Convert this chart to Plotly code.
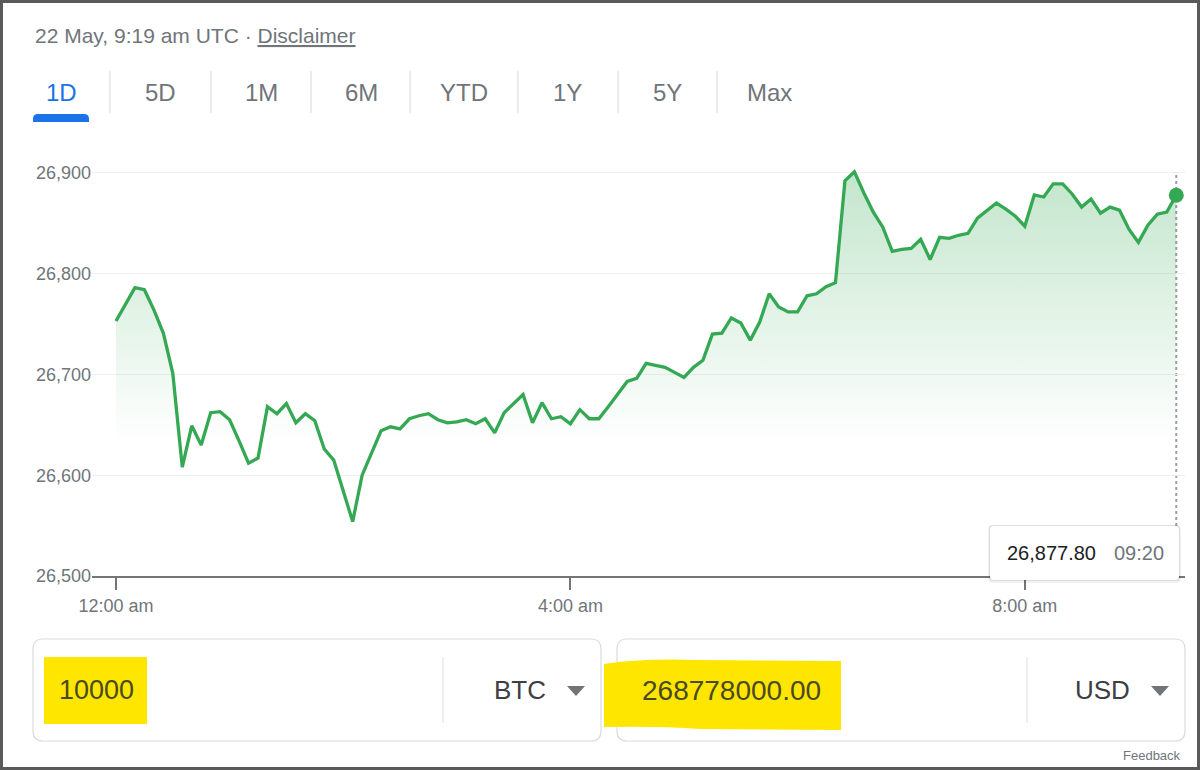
import plotly.graph_objects as go
import pandas as pd

# ---------------- data ----------------
start_time = "2023-05-22 00:00"
step = "5min"
prices = [
    26753, 26769, 26786, 26784, 26764, 26741, 26701, 26608, 26649, 26630,
    26662, 26663, 26655, 26634, 26612, 26617, 26668, 26661, 26671, 26652,
    26661, 26654, 26626, 26615, 26585, 26554, 26600, 26623, 26644, 26648,
    26646, 26656, 26659, 26661, 26655, 26652, 26653, 26655, 26651, 26656,
    26642, 26662, 26671, 26680, 26652, 26672, 26656, 26658, 26651, 26665,
    26656, 26656, 26668, 26681, 26693, 26696, 26711, 26709, 26707, 26702,
    26697, 26707, 26714, 26740, 26741, 26756, 26751, 26734, 26752, 26780,
    26767, 26762, 26762, 26778, 26780, 26787, 26791, 26892, 26901, 26880,
    26861, 26846, 26822, 26824, 26825, 26834, 26814, 26836, 26835, 26838,
    26840, 26855, 26863, 26870, 26864, 26857, 26847, 26878, 26876, 26889,
    26889, 26879, 26866, 26874, 26860, 26866, 26863, 26844, 26831, 26848,
    26859, 26861, 26877.8,
]
y_ticks = [26500, 26600, 26700, 26800, 26900]
y_tick_text = ["26,500", "26,600", "26,700", "26,800", "26,900"]
x_tick_times = ["2023-05-22 00:00", "2023-05-22 04:00", "2023-05-22 08:00"]
x_tick_text = ["12:00 am", "4:00 am", "8:00 am"]
tabs = ["1D", "5D", "1M", "6M", "YTD", "1Y", "5Y", "Max"]
header_text = "22 May, 9:19 am UTC · "
disclaimer_text = "Disclaimer"
last_price_label = "26,877.80"
last_time_label = "09:20"
amount_from = "10000"
currency_from = "BTC"
amount_to = "268778000.00"
currency_to = "USD"
footer_text = "Feedback"

times = pd.date_range(start_time, periods=len(prices), freq=step)

# ---------------- layout geometry ----------------
W, H = 1200, 770
L, R, T, B = 92, 15, 150, 194
PW, PH = W - L - R, H - T - B
FONT = "Liberation Sans, Arial, sans-serif"
GREEN = "#34a853"
GRAY = "#70757a"


def PX(x):
    return (x - L) / PW


def PY(y):
    return (H - B - y) / PH


def rrect_path(x0, y0, x1, y1, r):
    pts = []
    pts.append(f"M{PX(x0 + r)},{PY(y0)}")
    pts.append(f"L{PX(x1 - r)},{PY(y0)}")
    pts.append(f"Q{PX(x1)},{PY(y0)} {PX(x1)},{PY(y0 + r)}")
    pts.append(f"L{PX(x1)},{PY(y1 - r)}")
    pts.append(f"Q{PX(x1)},{PY(y1)} {PX(x1 - r)},{PY(y1)}")
    pts.append(f"L{PX(x0 + r)},{PY(y1)}")
    pts.append(f"Q{PX(x0)},{PY(y1)} {PX(x0)},{PY(y1 - r)}")
    pts.append(f"L{PX(x0)},{PY(y0 + r)}")
    pts.append(f"Q{PX(x0)},{PY(y0)} {PX(x0 + r)},{PY(y0)}")
    pts.append("Z")
    return " ".join(pts)


px_per_hour = 113.6
x0_time = pd.Timestamp(start_time)
x_left = x0_time - pd.Timedelta(hours=(116 - L) / px_per_hour)
x_right = x0_time + pd.Timedelta(hours=(W - R - 116) / px_per_hour)
y_top = 26500 + PH / 1.008

fig = go.Figure()
fig.add_trace(go.Scatter(
    x=times, y=prices, mode="lines",
    line=dict(color=GREEN, width=3.3),
    fill="tozeroy",
    fillgradient=dict(type="vertical", start=26630, stop=26905,
                      colorscale=[[0, "rgba(52,168,83,0)"], [1, "rgba(52,168,83,0.30)"]]),
    hoverinfo="skip", showlegend=False,
))
fig.add_trace(go.Scatter(
    x=[times[-1]], y=[prices[-1]], mode="markers",
    marker=dict(color=GREEN, size=15),
    hoverinfo="skip", showlegend=False,
))

shapes = []
annotations = []

# dotted cursor line
shapes.append(dict(type="line", xref="x", yref="paper", x0=times[-1], x1=times[-1],
                   y0=PY(526), y1=PY(175), line=dict(color="#9aa0a6", width=2, dash="dot"),
                   layer="below"))

# tooltip box
shapes.append(dict(type="path", xref="paper", yref="paper", path=rrect_path(988, 525, 1181, 583, 5),
                   fillcolor="rgba(0,0,0,0.06)", line=dict(width=0), layer="above"))
shapes.append(dict(type="path", xref="paper", yref="paper", path=rrect_path(989, 525, 1180, 581, 4),
                   fillcolor="rgba(0,0,0,0.08)", line=dict(width=0), layer="above"))
shapes.append(dict(type="path", xref="paper", yref="paper", path=rrect_path(990, 526, 1179, 580, 4),
                   fillcolor="white", line=dict(width=0), layer="above"))
annotations.append(dict(xref="paper", yref="paper", x=PX(1005), y=PY(553), xanchor="left", yanchor="middle",
                        text=last_price_label, showarrow=False, font=dict(family=FONT, size=20, color="#202124")))
annotations.append(dict(xref="paper", yref="paper", x=PX(1112), y=PY(553), xanchor="left", yanchor="middle",
                        text=last_time_label, showarrow=False, font=dict(family=FONT, size=20, color=GRAY)))

# header
annotations.append(dict(xref="paper", yref="paper", x=PX(33), y=PY(35), xanchor="left", yanchor="middle",
                        text=header_text + "<u>" + disclaimer_text + "</u>", showarrow=False,
                        font=dict(family=FONT, size=21, color=GRAY)))

# tabs
tab_centers = [61, 160, 261, 361, 464, 567, 667, 770]
for name, cx in zip(tabs, tab_centers):
    annotations.append(dict(xref="paper", yref="paper", x=PX(cx), y=PY(92), xanchor="center", yanchor="middle",
                            text=name, showarrow=False,
                            font=dict(family=FONT, size=24, color="#1a73e8" if name == "1D" else GRAY)))
for sx in [110, 211, 311, 410, 518, 618, 717]:
    shapes.append(dict(type="line", xref="paper", yref="paper", x0=PX(sx), x1=PX(sx), y0=PY(71), y1=PY(113),
                       line=dict(color="#e3e5e8", width=1.5)))
# underline of active tab (rounded top)
r = 5
ul = (f"M{PX(33)},{PY(122)} L{PX(33)},{PY(114 + r)} Q{PX(33)},{PY(114)} {PX(33 + r)},{PY(114)} "
      f"L{PX(89 - r)},{PY(114)} Q{PX(89)},{PY(114)} {PX(89)},{PY(114 + r)} L{PX(89)},{PY(122)} Z")
shapes.append(dict(type="path", xref="paper", yref="paper", path=ul, fillcolor="#1a73e8", line=dict(width=0)))

# converter boxes
for (x0, x1) in [(33, 601), (617, 1185)]:
    shapes.append(dict(type="path", xref="paper", yref="paper", path=rrect_path(x0, 639, x1, 741, 10),
                       fillcolor="white", line=dict(color="#dadce0", width=1.2)))
YELLOW = "#ffe600"
shapes.append(dict(type="rect", xref="paper", yref="paper", x0=PX(44), x1=PX(147), y0=PY(657), y1=PY(724),
                   fillcolor=YELLOW, line=dict(width=0)))
hl = (f"M{PX(604)},{PY(664)} Q{PX(640)},{PY(658)} {PX(700)},{PY(660)} L{PX(841)},{PY(661)} "
      f"L{PX(841)},{PY(730)} L{PX(700)},{PY(729)} Q{PX(660)},{PY(726)} {PX(604)},{PY(727)} Z")
shapes.append(dict(type="path", xref="paper", yref="paper", path=hl, fillcolor=YELLOW, line=dict(width=0)))
for sx in [443, 1027]:
    shapes.append(dict(type="line", xref="paper", yref="paper", x0=PX(sx), x1=PX(sx), y0=PY(657), y1=PY(723),
                       line=dict(color="#e3e5e8", width=1.2)))
for tx in [576, 1160]:
    tri = f"M{PX(tx - 9)},{PY(686)} L{PX(tx + 9)},{PY(686)} L{PX(tx)},{PY(696)} Z"
    shapes.append(dict(type="path", xref="paper", yref="paper", path=tri, fillcolor=GRAY, line=dict(width=0)))

annotations.append(dict(xref="paper", yref="paper", x=PX(96), y=PY(690), xanchor="center", yanchor="middle",
                        text=amount_from, showarrow=False, font=dict(family=FONT, size=27, color="#4a4a22")))
annotations.append(dict(xref="paper", yref="paper", x=PX(520), y=PY(690), xanchor="center", yanchor="middle",
                        text=currency_from, showarrow=False, font=dict(family=FONT, size=26, color="#3c4043")))
annotations.append(dict(xref="paper", yref="paper", x=PX(731), y=PY(690), xanchor="center", yanchor="middle",
                        text=amount_to, showarrow=False, font=dict(family=FONT, size=28, color="#4a4a22")))
annotations.append(dict(xref="paper", yref="paper", x=PX(1102), y=PY(690), xanchor="center", yanchor="middle",
                        text=currency_to, showarrow=False, font=dict(family=FONT, size=26, color="#3c4043")))
annotations.append(dict(xref="paper", yref="paper", x=PX(1183), y=PY(755), xanchor="right", yanchor="middle",
                        text=footer_text, showarrow=False, font=dict(family=FONT, size=13, color=GRAY)))

# outer frame
shapes.append(dict(type="rect", xref="paper", yref="paper", x0=PX(1.5), x1=PX(W - 1.5), y0=PY(1.5),
                   y1=PY(H - 1.5), line=dict(color="#5a5a5a", width=3), fillcolor="rgba(0,0,0,0)",
                   layer="above"))

fig.update_layout(
    width=W, height=H,
    margin=dict(l=L, r=R, t=T, b=B, pad=0),
    paper_bgcolor="white", plot_bgcolor="white",
    font=dict(family=FONT, color=GRAY, size=18),
    hovermode=False,
    shapes=shapes, annotations=annotations,
    xaxis=dict(type="date", range=[x_left, x_right], showgrid=False, zeroline=False,
               showline=True, linecolor="#757575", linewidth=2,
               ticks="outside", ticklen=12, tickwidth=2, tickcolor="#757575",
               tickvals=x_tick_times, ticktext=x_tick_text,
               tickfont=dict(family=FONT, size=18, color=GRAY)),
    yaxis=dict(range=[26500, y_top], showgrid=True, gridcolor="#efefef", gridwidth=1,
               zeroline=False, showline=False, ticks="",
               tickvals=y_ticks, ticktext=y_tick_text,
               tickfont=dict(family=FONT, size=18, color=GRAY)),
)

fig.write_html("out.html", config={"displayModeBar": False},
               post_script="document.body.style.margin='0';document.body.style.overflow='hidden';")
